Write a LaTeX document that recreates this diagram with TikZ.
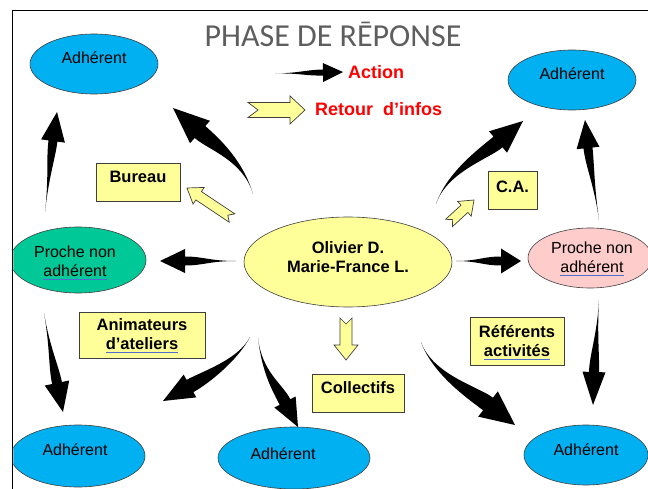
\documentclass[tikz,border=0pt]{standalone}
\usepackage{fontspec}
\setmainfont{Liberation Sans}
\newfontfamily\titlefont{Carlito}
\usetikzlibrary{shapes.geometric,calc}
\definecolor{adhblue}{HTML}{00B0F0}
\definecolor{prgreen}{HTML}{00C896}
\definecolor{prpink}{HTML}{FFCCCC}
\definecolor{lyellow}{HTML}{FFFF99}
\definecolor{ulblue}{HTML}{4F6FD0}
\definecolor{titlegray}{HTML}{5E5E5E}
\definecolor{edgegray}{HTML}{3F3F3F}
\definecolor{legred}{HTML}{FF0000}
\newcommand\squig[1]{\setbox0=\hbox{#1}\leavevmode\rlap{\color{ulblue}\rule[-3.5pt]{\wd0}{1pt}}\box0}
% tapered black arrow: tail, control, head base, tip, body half width, head half width
\newcommand\tarrow[6]{%
 \path coordinate (tq) at ($(#3)!18pt!180:(#4)$)
 coordinate (tb1) at ($(#3)!#5!90:(#4)$)
 coordinate (tb2) at ($(#3)!#5!-90:(#4)$)
 coordinate (tc1) at ($(tq)!#5!90:(#3)$)
 coordinate (tc2) at ($(tq)!#5!-90:(#3)$)
 coordinate (th1) at ($(#3)!#6!90:(#4)$)
 coordinate (th2) at ($(#3)!#6!-90:(#4)$);
 \fill[black] (#1) .. controls (#2) and (tc1) .. (tb1) -- (th1) -- (#4) -- (th2) -- (tb2) .. controls (tc2) and (#2) .. (#1) -- cycle;}
% notched yellow block arrow: tail, tip, shaft half width, head half width, head length, notch depth
\newcommand\barrow[6]{%
 \path coordinate (bb) at ($(#2)!#5!(#1)$)
 coordinate (bs1) at ($(#1)!#3!90:(#2)$)
 coordinate (bs2) at ($(#1)!#3!-90:(#2)$)
 coordinate (bn) at ($(#1)!#6!(#2)$)
 coordinate (bm1) at ($(bb)!#3!90:(#2)$)
 coordinate (bm2) at ($(bb)!#3!-90:(#2)$)
 coordinate (bh1) at ($(bb)!#4!90:(#2)$)
 coordinate (bh2) at ($(bb)!#4!-90:(#2)$);
 \draw[blockarrow] (bs1) -- (bm1) -- (bh1) -- (#2) -- (bh2) -- (bm2) -- (bs2) -- (bn) -- cycle;}
\tikzset{
 ell/.style={ellipse, draw=edgegray, line width=0.6pt, inner sep=0pt},
 adh/.style={ell, fill=adhblue},
 lbl/.style={font=\fontsize{16}{19}\selectfont, inner sep=0pt, align=center},
 blbl/.style={font=\bfseries\fontsize{16.5}{19}\selectfont, inner sep=0pt, align=center},
 ybox/.style={draw=edgegray, fill=lyellow, line width=0.8pt, inner sep=0pt},
 blockarrow/.style={draw=edgegray, fill=lyellow, line width=0.7pt, line join=miter},
 legtext/.style={font=\bfseries\fontsize{18}{20}\selectfont, text=legred, inner sep=0pt}
}
\begin{document}
\begin{tikzpicture}[x=1pt, y={(0pt,-1pt)}]
\useasboundingbox (0,0) rectangle (648,489);
\fill[white] (0,0) rectangle (648,489);
\begin{scope}
\clip (13.3,11.3) rectangle (650,490);
% title
\node[font=\titlefont\fontsize{32}{36}\selectfont, text=titlegray, anchor=base, inner sep=0pt] (title) at (333,47) {PHASE DE RĒPONSE};
% ellipses
\node[adh, minimum width=128, minimum height=60, label={[lbl, yshift=6pt]center:Adhérent}] (adhTL) at (94,64) {};
\node[adh, minimum width=128, minimum height=60, label={[lbl, yshift=6pt]center:Adhérent}] (adhTR) at (572,80) {};
\node[ell, fill=prgreen, minimum width=136, minimum height=66, label={[lbl, yshift=-3pt, xshift=-3pt]center:Proche non\\\squig{adhérent}}] (prL) at (78,260) {};
\node[ell, fill=lyellow, minimum width=208, minimum height=90, label={[blbl, yshift=5pt]center:Olivier D.\\Marie-France L.}] (center) at (348,262) {};
\node[ell, fill=prpink, minimum width=124, minimum height=60, label={[lbl, yshift=-1pt, xshift=2pt]center:Proche non\\\squig{adhérent}}] (prR) at (590,258) {};
\node[adh, minimum width=134, minimum height=62, label={[lbl, yshift=6pt, xshift=-3pt]center:Adhérent}] (adhBL) at (78,456) {};
\node[adh, minimum width=152, minimum height=62, label={[lbl, yshift=4pt, xshift=-11pt]center:Adhérent}] (adhBM) at (294,458) {};
\node[adh, minimum width=124, minimum height=60, label={[lbl, yshift=5pt]center:Adhérent}] (adhBR) at (586,455) {};
% boxes
\node[ybox, minimum width=84, minimum height=38, label={[blbl, yshift=5pt]center:Bureau}] (bureau) at (138,182) {};
\node[ybox, minimum width=49, minimum height=38, label={[blbl, yshift=3pt]center:C.A.}] (ca) at (512.5,190) {};
\node[ybox, minimum width=126, minimum height=46, label={[blbl, yshift=-1pt]center:Animateurs\\\squig{d’ateliers}}] (anim) at (142,335) {};
\node[ybox, minimum width=94, minimum height=48, label={[blbl, yshift=-2pt]center:Référents\\\squig{activités}}] (ref) at (517,341) {};
\node[ybox, minimum width=92, minimum height=38, label={[blbl, yshift=5pt]center:Collectifs}] (coll) at (358,393) {};
% legend
\node[legtext, anchor=base west] (action) at (348,79) {Action};
\node[legtext, anchor=base west] (retour) at (315,116) {Retour\ \ d’infos};
% arrow points
\coordinate (a1t) at (236,261); \coordinate (a1c) at (210,261); \coordinate (a1b) at (185,261); \coordinate (a1p) at (160,261);
\coordinate (a2t) at (456,261); \coordinate (a2c) at (478,261); \coordinate (a2b) at (501,261); \coordinate (a2p) at (521,261);
\coordinate (a3t) at (253,194); \coordinate (a3c) at (243,160); \coordinate (a3b) at (200,132); \coordinate (a3p) at (173,108);
\coordinate (a4t) at (45,212); \coordinate (a4c) at (49,176); \coordinate (a4b) at (53,141); \coordinate (a4p) at (57,112);
\coordinate (a5t) at (436,204); \coordinate (a5c) at (447,172); \coordinate (a5b) at (498,142); \coordinate (a5p) at (523,121);
\coordinate (a6t) at (599,220); \coordinate (a6c) at (594,184); \coordinate (a6b) at (588,148); \coordinate (a6p) at (585,120);
\coordinate (a7t) at (44,313); \coordinate (a7c) at (50,348); \coordinate (a7b) at (57,383); \coordinate (a7p) at (63,412);
\coordinate (a8t) at (599,300); \coordinate (a8c) at (597,336); \coordinate (a8b) at (594,372); \coordinate (a8p) at (593,405);
\coordinate (a9t) at (250,337); \coordinate (a9c) at (238,360); \coordinate (a9b) at (190,386); \coordinate (a9p) at (163,401);
\coordinate (a10t) at (258,338); \coordinate (a10c) at (262,372); \coordinate (a10b) at (285,402); \coordinate (a10p) at (298,427);
\coordinate (a11t) at (421,342); \coordinate (a11c) at (433,375); \coordinate (a11b) at (488,404); \coordinate (a11p) at (515,425);
\coordinate (lgt) at (275,73.5); \coordinate (lgc) at (300,73); \coordinate (lgb) at (323,72.5); \coordinate (lgp) at (343,72);
% black arrows
\tarrow{a1t}{a1c}{a1b}{a1p}{4.5pt}{12pt}
\tarrow{a2t}{a2c}{a2b}{a2p}{4.5pt}{12.5pt}
\tarrow{a3t}{a3c}{a3b}{a3p}{8pt}{15pt}
\tarrow{a4t}{a4c}{a4b}{a4p}{4.5pt}{12pt}
\tarrow{a5t}{a5c}{a5b}{a5p}{7pt}{14pt}
\tarrow{a6t}{a6c}{a6b}{a6p}{4.5pt}{11.5pt}
\tarrow{a7t}{a7c}{a7b}{a7p}{5pt}{12.5pt}
\tarrow{a8t}{a8c}{a8b}{a8p}{5pt}{11.5pt}
\tarrow{a9t}{a9c}{a9b}{a9p}{7pt}{13pt}
\tarrow{a10t}{a10c}{a10b}{a10p}{6pt}{12pt}
\tarrow{a11t}{a11c}{a11b}{a11p}{8pt}{16pt}
\tarrow{lgt}{lgc}{lgb}{lgp}{3pt}{9.5pt}
% yellow block arrows
\coordinate (y1t) at (232,218); \coordinate (y1p) at (187,188);
\coordinate (y2t) at (449,223); \coordinate (y2p) at (474,200);
\coordinate (y3t) at (346,318); \coordinate (y3p) at (346,360);
\coordinate (ylt) at (248,110); \coordinate (ylp) at (305,110);
\barrow{y1t}{y1p}{5pt}{10pt}{14pt}{5pt}
\barrow{y2t}{y2p}{5pt}{10pt}{13pt}{5pt}
\barrow{y3t}{y3p}{6pt}{12pt}{15pt}{6pt}
\barrow{ylt}{ylp}{7.5pt}{14pt}{15pt}{10pt}
\end{scope}
% frame
\draw[line width=1.6pt] (12.5,489) -- (12.5,10.5) -- (648,10.5);
\end{tikzpicture}
\end{document}
